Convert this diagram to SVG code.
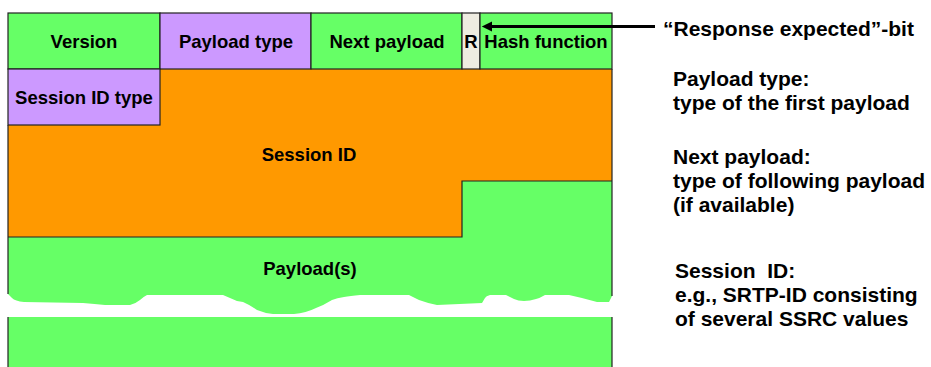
<svg xmlns="http://www.w3.org/2000/svg" width="931" height="367" viewBox="0 0 931 367">
<defs>
<style>
.lbl{font-family:"Liberation Sans",Arial,sans-serif;font-weight:bold;font-size:18.5px;fill:#000;text-anchor:middle}
.note{font-family:"Liberation Sans",Arial,sans-serif;font-weight:bold;font-size:21px;fill:#000}
.ln{fill:none;stroke:#222;stroke-width:1.2}
.g{fill:#66FF66}
.p{fill:#CC99FF}
.o{fill:#FF9900}
.r{fill:#EEECE1}
</style>
<marker id="ah" viewBox="0 0 10 10" refX="0" refY="5" markerWidth="3.6" markerHeight="3.4" orient="auto-start-reverse" markerUnits="strokeWidth">
<path d="M0,0 L10,5 L0,10 Z" fill="#000"/>
</marker>
</defs>
<rect width="931" height="367" fill="#fff"/>

<g id="session-id">
<path class="o" d="M160,69 H612 V181 H462 V237 H8 V125 H160 Z"/>
<text class="lbl" x="309" y="161">Session ID</text>
</g>

<g id="payloads">
<path class="g" d="M8,237 H462 V181 H612 V296 L609,302 L597,302 Q583,298 569,295 H545 Q540,298 536,299 Q530,301 524,301 Q518,301 514,299 L506,295 H490 Q486,296 485,298 L482,303 L437,305 Q427,303 419,300 L409,295 H360 Q350,296 344,297 Q337,298 332,300 Q324,305 316,308 Q306,313 294,314 H273 Q264,313 257,310 Q250,305 243,302 L237,301 Q230,298 223,295 H147 Q143,297 140,300 Q135,304 130,305 H105 Q95,304 83,303 L24,302 Q15,301 12,298 L8,294 Z"/>
<rect class="g" x="8" y="317" width="604" height="50"/>
<text class="lbl" x="310" y="275">Payload(s)</text>
<path class="ln" d="M8,237 H462 V181 H612"/>
<path class="ln" d="M8,125 V294 M612,69 V296 M8,317 V367 M612,317 V367"/>
</g>

<g id="version">
<rect class="ln" x="8" y="13" width="152" height="56" style="fill:#66FF66"/>
<text class="lbl" x="84" y="48">Version</text>
</g>
<g id="payload-type">
<rect class="ln" x="160" y="13" width="151" height="56" style="fill:#CC99FF"/>
<text class="lbl" x="236" y="48">Payload type</text>
</g>
<g id="next-payload">
<rect class="ln" x="311" y="13" width="151" height="56" style="fill:#66FF66"/>
<text class="lbl" x="387" y="48">Next payload</text>
</g>
<g id="r-bit">
<rect class="ln" x="462" y="13" width="18" height="56" style="fill:#EEECE1"/>
<text class="lbl" x="471" y="48">R</text>
</g>
<g id="hash-function">
<rect class="ln" x="480" y="13" width="132" height="56" style="fill:#66FF66"/>
<text class="lbl" x="546" y="48">Hash function</text>
</g>
<g id="session-id-type">
<rect class="ln" x="8" y="69" width="152" height="56" style="fill:#CC99FF"/>
<text class="lbl" x="84" y="104">Session ID type</text>
</g>

<g id="connectors">
<line x1="655" y1="26.5" x2="492" y2="26.5" stroke="#000" stroke-width="3" marker-end="url(#ah)"/>
</g>

<g id="notes">
<text class="note" x="663" y="36">“Response expected”-bit</text>
<text class="note" x="673" y="86">Payload type:</text>
<text class="note" x="673" y="110">type of the first payload</text>
<text class="note" x="673" y="164">Next payload:</text>
<text class="note" x="673" y="188">type of following payload</text>
<text class="note" x="673" y="212">(if available)</text>
<text class="note" x="675" y="278" xml:space="preserve">Session  ID:</text>
<text class="note" x="675" y="302">e.g., SRTP-ID consisting</text>
<text class="note" x="675" y="326">of several SSRC values</text>
</g>
</svg>
